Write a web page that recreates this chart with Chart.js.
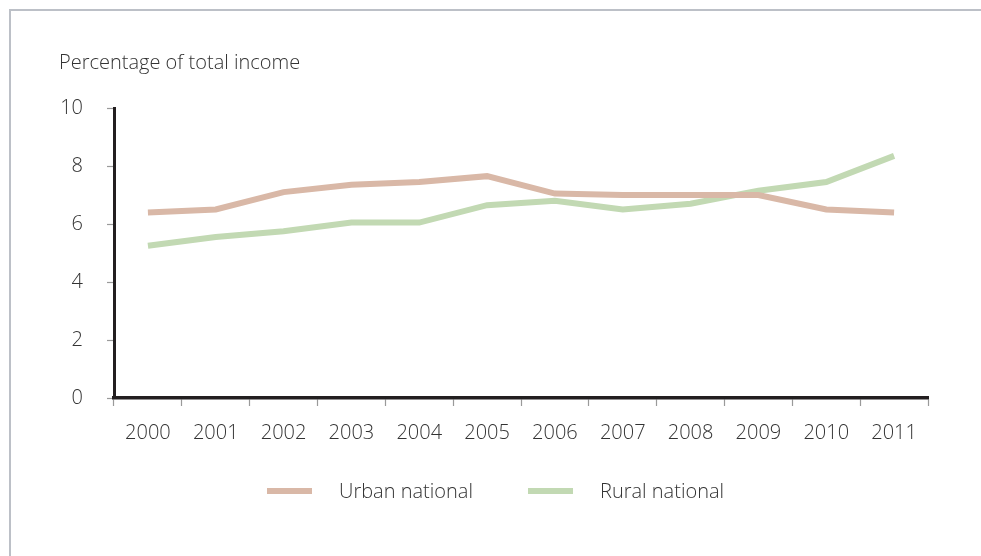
<!DOCTYPE html>
<html>
<head>
<meta charset="utf-8">
<script src="https://cdn.jsdelivr.net/npm/chart.js@4"></script>
<style>
  html, body { margin: 0; padding: 0; background: #fff; }
  #wrap { position: relative; width: 981px; height: 556px; overflow: hidden; }
  #frame { position: absolute; left: 9px; top: 9px; right: -10px; bottom: -10px;
           border-left: 2.5px solid #bcc0c7; border-top: 2.5px solid #bcc0c7; }
  #c { position: absolute; left: 0; top: 0; }
</style>
</head>
<body>
<div id="wrap">
  <div id="frame"></div>
  <canvas id="c" width="981" height="556"></canvas>
</div>
<script>
const years = ['2000','2001','2002','2003','2004','2005','2006','2007','2008','2009','2010','2011'];
const urbanNational = [6.4, 6.5, 7.1, 7.35, 7.45, 7.65, 7.05, 7.0, 7.0, 7.0, 6.5, 6.4];
const ruralNational = [5.25, 5.55, 5.75, 6.05, 6.05, 6.65, 6.8, 6.5, 6.7, 7.15, 7.45, 8.35];
const yTicks = [0, 2, 4, 6, 8, 10];
const yAxisTitle = 'Percentage of total income';

const FONT = '"Open Sans", "Liberation Sans", sans-serif';
const TEXT = '#333333';

// Axis title above the plot and a line-swatch legend below it
const decor = {
  id: 'decor',
  afterDraw(chart) {
    const ctx = chart.ctx;
    ctx.save();
    ctx.fillStyle = TEXT;
    ctx.font = '300 20px ' + FONT;
    ctx.textBaseline = 'middle';
    ctx.textAlign = 'left';
    ctx.fillText(yAxisTitle, 59, 63);

    const startX = [267, 528];
    const y = 491;
    chart.data.datasets.forEach((ds, i) => {
      const x = startX[i];
      ctx.strokeStyle = ds.borderColor;
      ctx.lineWidth = 6;
      ctx.lineCap = 'butt';
      ctx.beginPath();
      ctx.moveTo(x, y);
      ctx.lineTo(x + 45, y);
      ctx.stroke();
      ctx.fillStyle = TEXT;
      ctx.fillText(ds.label, x + 72, y + 1);
    });
    ctx.restore();
  }
};

new Chart(document.getElementById('c'), {
  type: 'line',
  data: {
    labels: years,
    datasets: [
      { label: 'Urban national', data: urbanNational, borderColor: '#d9b8a7', borderWidth: 6,
        pointRadius: 0, tension: 0, fill: false, borderCapStyle: 'butt', borderJoinStyle: 'miter' },
      { label: 'Rural national', data: ruralNational, borderColor: '#c2d9b3', borderWidth: 6,
        pointRadius: 0, tension: 0, fill: false, borderCapStyle: 'butt', borderJoinStyle: 'miter' }
    ]
  },
  options: {
    responsive: false,
    animation: false,
    events: [],
    layout: { padding: { left: 0, right: 53, top: 108, bottom: 98 } },
    plugins: { legend: { display: false }, tooltip: { enabled: false }, title: { display: false } },
    scales: {
      x: {
        type: 'category',
        offset: true,
        grid: { display: true, offset: true, drawOnChartArea: false, drawTicks: true,
                tickLength: 8, tickColor: '#9a9a9a', tickWidth: 1.2 },
        border: { display: true, color: '#231f20', width: 3.5 },
        ticks: { color: TEXT, font: { family: FONT, size: 20, weight: 300 }, padding: 15, maxRotation: 0 },
        afterFit(s) { s.height = 60; }
      },
      y: {
        min: 0, max: 10,
        afterBuildTicks(s) { s.ticks = yTicks.map(v => ({ value: v })); },
        grid: { display: true, drawOnChartArea: false, drawTicks: true,
                tickLength: 7, tickColor: '#9a9a9a', tickWidth: 1.2 },
        border: { display: true, color: '#231f20', width: 3 },
        ticks: { color: TEXT, font: { family: FONT, size: 20, weight: 300 }, padding: 24 },
        afterFit(s) { s.width = 114; }
      }
    }
  },
  plugins: [decor]
});
</script>
</body>
</html>
